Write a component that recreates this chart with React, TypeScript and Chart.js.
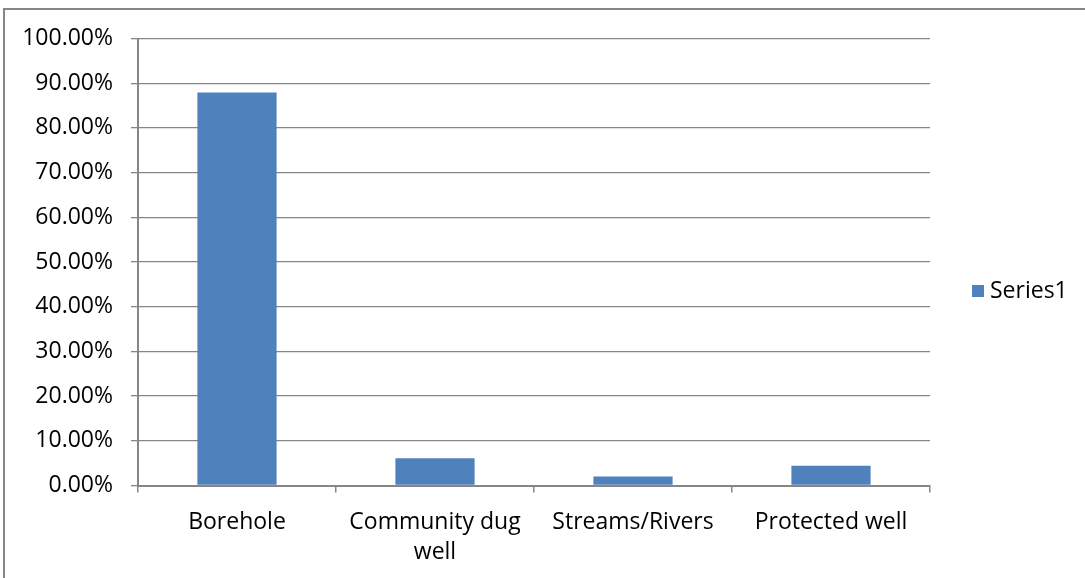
import React, { useEffect, useRef } from "react";
import { Chart, registerables } from "chart.js";

Chart.register(...registerables);

const categories: (string | string[])[] = [
  "Borehole",
  ["Community dug", "well"],
  "Streams/Rivers",
  "Protected well",
];
const seriesName = "Series1";
const seriesValues = [87.9, 6.1, 2.0, 4.4];
const yTicks = [0, 10, 20, 30, 40, 50, 60, 70, 80, 90, 100];

const BAR_COLOR = "#4F81BD";
const LINE_COLOR = "#868686";
const FONT = "'Open Sans', 'DejaVu Sans', sans-serif";
const FONT_SIZE = 23;

// Legend drawn to the right of the plot area
const sideLegend = {
  id: "sideLegend",
  afterDraw(chart: Chart) {
    const ctx = chart.ctx;
    const ds = chart.data.datasets[0];
    ctx.save();
    ctx.fillStyle = BAR_COLOR;
    ctx.fillRect(972, 285, 12, 12);
    ctx.fillStyle = "#000";
    ctx.font = `${FONT_SIZE}px ${FONT}`;
    ctx.textAlign = "left";
    ctx.textBaseline = "middle";
    ctx.fillText(String(ds.label), 990, 291);
    ctx.restore();
  },
};

export default function App() {
  const canvasRef = useRef<HTMLCanvasElement | null>(null);

  useEffect(() => {
    if (!canvasRef.current) return;
    const chart = new Chart(canvasRef.current, {
      type: "bar",
      data: {
        labels: categories,
        datasets: [
          {
            label: seriesName,
            data: seriesValues,
            backgroundColor: BAR_COLOR,
            borderWidth: 0,
            categoryPercentage: 1,
            barPercentage: 0.4,
          },
        ],
      },
      options: {
        animation: false,
        responsive: false,
        maintainAspectRatio: false,
        layout: { padding: { left: 0, top: 38.5, right: 155, bottom: 0 } },
        plugins: {
          legend: { display: false },
          tooltip: { enabled: false },
        },
        scales: {
          x: {
            offset: true,
            afterFit: (scale: any) => {
              scale.height = 92.5;
            },
            grid: {
              offset: true,
              drawOnChartArea: false,
              drawTicks: true,
              tickLength: 7,
              color: LINE_COLOR,
              lineWidth: 1.5,
            },
            border: { color: LINE_COLOR, width: 2 },
            ticks: {
              color: "#000",
              font: { family: FONT, size: FONT_SIZE, lineHeight: 1.3 },
              padding: 15,
              maxRotation: 0,
              autoSkip: false,
            },
          },
          y: {
            min: 0,
            max: 100,
            afterFit: (scale: any) => {
              scale.width = 138;
            },
            afterBuildTicks: (scale: any) => {
              scale.ticks = yTicks.map((v) => ({ value: v }));
            },
            grid: {
              color: LINE_COLOR,
              lineWidth: 1.3,
              drawTicks: true,
              tickLength: 7,
            },
            border: { color: LINE_COLOR, width: 2 },
            ticks: {
              color: "#000",
              font: { family: FONT, size: FONT_SIZE },
              padding: 18,
              callback: (v: any) => `${Number(v).toFixed(2)}%`,
            },
          },
        },
      },
      plugins: [sideLegend],
    });
    return () => chart.destroy();
  }, []);

  return (
    <div
      style={{
        position: "absolute",
        left: 0,
        top: 0,
        width: 1085,
        height: 578,
        background: "#fff",
        overflow: "hidden",
      }}
    >
      <div
        style={{
          position: "absolute",
          left: 3,
          top: 8,
          width: 1090,
          height: 580,
          borderTop: `2px solid ${LINE_COLOR}`,
          borderLeft: `2px solid ${LINE_COLOR}`,
          boxSizing: "border-box",
        }}
      />
      <canvas
        ref={canvasRef}
        width={1085}
        height={578}
        style={{ position: "absolute", left: 0, top: 0 }}
      />
    </div>
  );
}
